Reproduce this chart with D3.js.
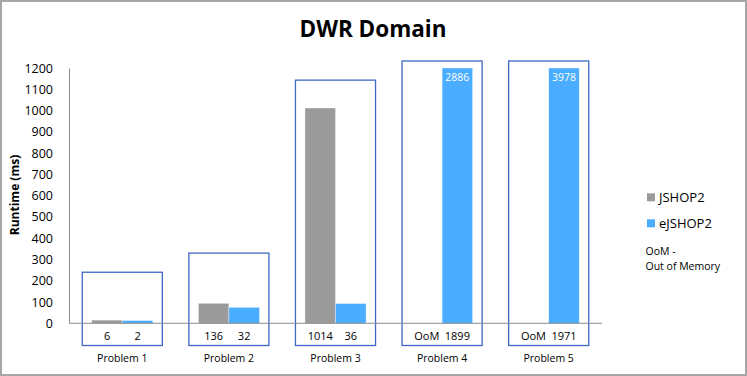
<!DOCTYPE html>
<html><head><meta charset="utf-8">
<script src="https://cdn.jsdelivr.net/npm/d3@7"></script>
<style>body{margin:0;background:#fff}svg{display:block}text{font-family:"Open Sans",sans-serif}</style>
</head><body><svg id="c" width="747" height="376"></svg>
<script>
const categories = ["Problem 1","Problem 2","Problem 3","Problem 4","Problem 5"];
const series = ["JSHOP2","eJSHOP2"];
const jshop2 = [15, 94, 1012, 0, 0];
const ejshop2 = [13, 75, 93, 1200, 1200];
const jshop2Labels = ["6","136","1014","OoM","OoM"];
const ejshop2Labels = ["2","32","36","1899","1971"];
const topLabels = ["","","","2886","3978"];
const boxTops = [240, 330, 1143, 1233, 1233];
const yTicks = [0,100,200,300,400,500,600,700,800,900,1000,1100,1200];
const colors = ["#9b9b9b","#4aadff"];

const svg = d3.select("#c");
svg.append("rect").attr("x",1).attr("y",1).attr("width",745).attr("height",374)
  .attr("fill","#fff").attr("stroke","#a6a6a6").attr("stroke-width",2);

const x = d3.scaleBand().domain(categories).range([69,602]).paddingInner(0.427).paddingOuter(0.2135);
const xs = d3.scaleBand().domain(series).range([0,x.bandwidth()]);
const y = d3.scaleLinear().domain([0,1200]).range([323.3,68]);

svg.append("text").attr("x",373).attr("y",37).attr("text-anchor","middle")
  .attr("font-size",22.5).attr("font-weight","bold").text("DWR Domain");

// y axis
const ya = svg.append("g").attr("transform","translate(69,0)")
  .call(d3.axisLeft(y).tickValues(yTicks).tickSize(0).tickPadding(16).tickFormat(d3.format("d")));
ya.select(".domain").attr("stroke","#8c8c8c");
ya.selectAll("text").attr("font-size",12.5).attr("fill","#000").attr("font-family","Open Sans, sans-serif");

svg.append("text").attr("transform","translate(19,195) rotate(-90)").attr("text-anchor","middle")
  .attr("font-size",12).attr("font-weight","bold").text("Runtime (ms)");

const data = categories.map((c,i)=>({c, vals:[jshop2[i], ejshop2[i]], labs:[jshop2Labels[i], ejshop2Labels[i]], top:topLabels[i], box:boxTops[i]}));

const g = svg.append("g");
data.forEach(d=>{
  d.vals.forEach((v,j)=>{
    if(v>0) g.append("rect").attr("x",x(d.c)+xs(series[j])).attr("y",y(v))
      .attr("width",xs.bandwidth()).attr("height",y(0)-y(v))
      .attr("fill",colors[j]).attr("stroke","#fff").attr("stroke-width",0.6).attr("stroke-opacity",0.6);
  });
});
// x axis line
svg.append("line").attr("x1",69).attr("x2",602).attr("y1",y(0)).attr("y2",y(0)).attr("stroke","#8c8c8c");

data.forEach(d=>{
  const x0 = x(d.c) - 9.5, w = x.bandwidth() + 19;
  g.append("rect").attr("x",x0).attr("y",y(d.box)).attr("width",w).attr("height",345.5-y(d.box))
    .attr("fill","none").attr("stroke","#3f68c6").attr("stroke-width",1.3);
  d.labs.forEach((l,j)=>{
    g.append("text").attr("x",x(d.c)+xs(series[j])+xs.bandwidth()/2).attr("y",340)
      .attr("text-anchor","middle").attr("font-size",11).text(l);
  });
  if(d.top) g.append("text").attr("x",x(d.c)+xs("eJSHOP2")+xs.bandwidth()/2).attr("y",81)
      .attr("text-anchor","middle").attr("font-size",10.5).attr("fill","#fff").text(d.top);
  g.append("text").attr("x",x(d.c)+x.bandwidth()/2).attr("y",362).attr("text-anchor","middle")
    .attr("font-size",10.5).text(d.c);
});

// legend
const lg = svg.append("g");
series.forEach((s,i)=>{
  lg.append("rect").attr("x",647).attr("y",193.3+i*26).attr("width",8).attr("height",8).attr("fill",colors[i]);
  lg.append("text").attr("x",659).attr("y",202+i*26).attr("font-size",13).text(s);
});
lg.append("text").attr("x",645.5).attr("y",254.5).attr("font-size",10.5).text("OoM -");
lg.append("text").attr("x",645.5).attr("y",269.5).attr("font-size",10.5).text("Out of Memory");
</script></body></html>
